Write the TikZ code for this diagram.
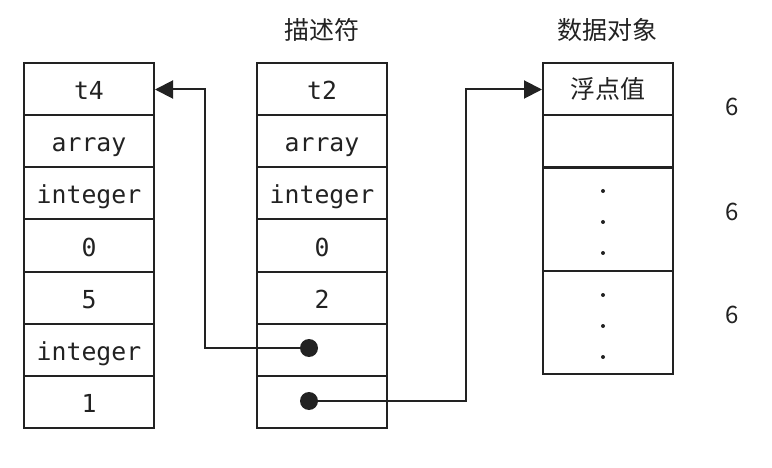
\documentclass[tikz,border=0pt]{standalone}
\usepackage{fontspec}
\newfontfamily\monof{DejaVu Sans Mono}
\newfontfamily\cjk{Noto Sans CJK SC}
\usetikzlibrary{arrows.meta}
\definecolor{ink}{HTML}{222222}
\tikzset{
  cell/.style={draw=ink, line width=2pt, minimum width=130pt, minimum height=52pt, inner sep=0pt, text=ink, text height=21pt, text depth=0pt, font=\monof\fontsize{24.8}{26}\selectfont},
  tallcell/.style={cell, minimum height=103pt},
  cjkcell/.style={cell, text height=19pt, text depth=0pt, font=\cjk\fontsize{25}{28}\selectfont},
  lbl/.style={text=ink, font=\cjk\fontsize{25}{28}\selectfont, inner sep=0pt},
  num/.style={text=ink, font=\cjk\fontsize{24}{28}\selectfont, inner sep=0pt},
  conn/.style={draw=ink, line width=2pt},
  arr/.style={conn, -{Triangle[length=18pt,width=18pt]}},
  ptr/.style={circle, fill=ink, minimum size=18pt, inner sep=0pt},
  vdot/.style={circle, fill=ink, minimum size=4pt, inner sep=0pt},
}
\begin{document}
\begin{tikzpicture}[x=1pt,y=1pt]
\useasboundingbox (0,0) rectangle (772,-468);
% left column
\node[cell] (L1) at (89,-89.5) {t4};
\node[cell] (L2) at (89,-141.5) {array};
\node[cell] (L3) at (89,-193.5) {integer};
\node[cell] (L4) at (89,-245.5) {0};
\node[cell] (L5) at (89,-297.5) {5};
\node[cell] (L6) at (89,-349.5) {integer};
\node[cell] (L7) at (89,-401.5) {1};
% middle column
\node[lbl] (T1) at (322,-30) {描述符};
\node[cell] (M1) at (322,-89.5) {t2};
\node[cell] (M2) at (322,-141.5) {array};
\node[cell] (M3) at (322,-193.5) {integer};
\node[cell] (M4) at (322,-245.5) {0};
\node[cell] (M5) at (322,-297.5) {2};
\node[cell] (M6) at (322,-349.5) {};
\node[cell] (M7) at (322,-401.5) {};
% right column
\node[lbl] (T2) at (607,-30) {数据对象};
\node[cjkcell] (R1) at (608,-89.5) {浮点值};
\node[cell] (R2) at (608,-141.5) {};
\node[tallcell] (R3) at (608,-219.5) {};
\node[tallcell] (R4) at (608,-322.5) {};
\node[vdot] (d1) at (603,-191) {};
\node[vdot] (d2) at (603,-222) {};
\node[vdot] (d3) at (603,-253) {};
\node[vdot] (d4) at (603,-295) {};
\node[vdot] (d5) at (603,-326) {};
\node[vdot] (d6) at (603,-357) {};
\node[num] (n1) at (732,-107) {6};
\node[num] (n2) at (732,-212) {6};
\node[num] (n3) at (732,-315) {6};
% pointers
\node[ptr] (pA) at (309,-348) {};
\node[ptr] (pB) at (309,-401) {};
\coordinate (tA) at (205,-348);
\coordinate (tB) at (466,-401);
\draw[arr] (pA.center) -- (tA) |- (L1.east);
\draw[arr] (pB.center) -- (tB) |- (R1.west);
\end{tikzpicture}
\end{document}
